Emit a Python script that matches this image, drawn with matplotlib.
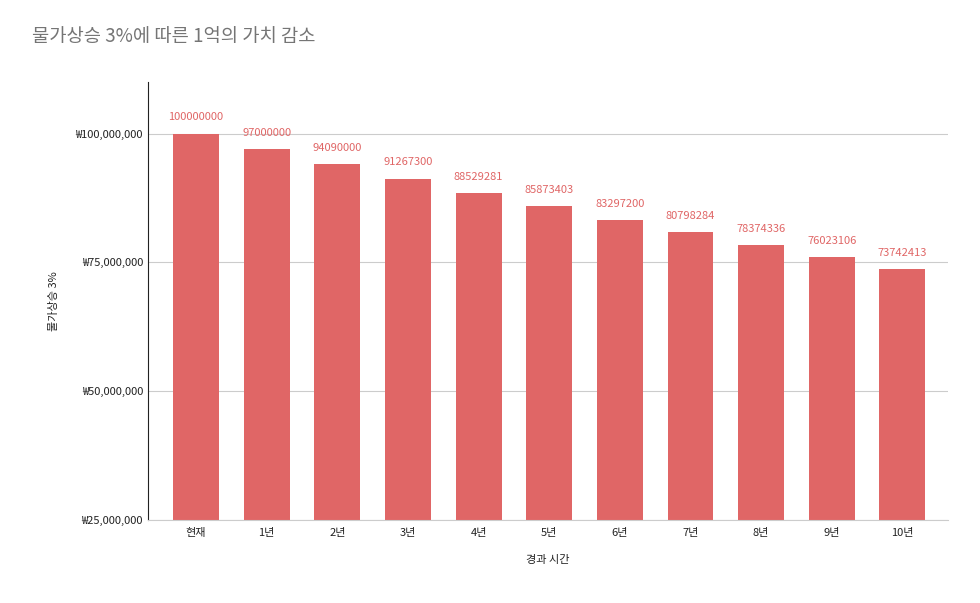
import matplotlib
matplotlib.use("Agg")
import matplotlib.pyplot as plt
from matplotlib.ticker import FuncFormatter

plt.rcParams["font.family"] = "Noto Sans CJK KR"

categories = ["현재", "1년", "2년", "3년", "4년", "5년", "6년", "7년", "8년", "9년", "10년"]
values = [100000000, 97000000, 94090000, 91267300, 88529281, 85873403,
          83297200, 80798284, 78374336, 76023106, 73742413]

bar_color = "#e06666"

fig = plt.figure(figsize=(9.8, 6.03), dpi=100)
ax = fig.add_axes([0.151, 0.1376, 0.816, 0.7264])

x = range(len(categories))
ax.bar(x, values, width=0.65, color=bar_color, zorder=2)
for i, v in zip(x, values):
    ax.annotate(str(v), (i, v), xytext=(0, 8), textcoords="offset points",
                ha="center", va="bottom", fontsize=8, color=bar_color)

ax.set_ylim(25000000, 110000000)
ax.set_xlim(-0.68, 10.64)
ax.set_yticks([25000000, 50000000, 75000000, 100000000])
ax.yaxis.set_major_formatter(FuncFormatter(lambda v, p: "₩{:,.0f}".format(v)))
ax.set_xticks(list(x))
ax.set_xticklabels(categories)
ax.tick_params(axis="both", length=0, labelsize=8, colors="#222222")
ax.tick_params(axis="x", pad=6)
ax.grid(axis="y", color="#cccccc", linewidth=0.8, zorder=0)
for s in ["top", "right"]:
    ax.spines[s].set_visible(False)
ax.spines["bottom"].set_color("#cccccc")
ax.spines["left"].set_color("#222222")

ax.set_xlabel("경과 시간", fontsize=8, labelpad=12, color="#222222")
ax.set_ylabel("물가상승 3%", fontsize=8, labelpad=12, color="#222222")
fig.text(0.033, 0.93, "물가상승 3%에 따른 1억의 가치 감소", fontsize=13.5, color="#757575")

fig.savefig("out.png", dpi=100)
